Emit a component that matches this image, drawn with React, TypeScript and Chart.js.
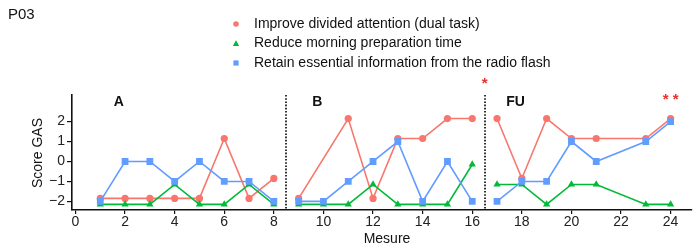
import { useEffect, useRef } from 'react';
import { Chart, registerables } from 'chart.js';

Chart.register(...registerables);

// ---- data ----
const measures = [1, 2, 3, 4, 5, 6, 7, 8, 9, 10, 11, 12, 13, 14, 15, 16, 17, 18, 19, 20, 21, 22, 23, 24];
const attentionScores = [-1.85, -1.85, -1.85, -1.85, -1.85, 1.15, -1.85, -0.85, -1.85, null, 2.15, -1.85, 1.15, 1.15, 2.15, 2.15, 2.15, -0.85, 2.15, 1.15, 1.15, null, 1.15, 2.15];
const morningScores = [-2.15, -2.15, -2.15, -1.15, -2.15, -2.15, -1.15, -2.15, -2.15, -2.15, -2.15, -1.15, -2.15, -2.15, -2.15, -0.15, -1.15, -1.15, -2.15, -1.15, -1.15, null, -2.15, -2.15];
const radioScores = [-2, 0, 0, -1, 0, -1, -1, -2, -2, -2, -1, 0, 1, -2, 0, -2, -2, -1, -1, 1, 0, null, 1, 2];
const seriesNames = [
  'Improve divided attention (dual task)',
  'Reduce morning preparation time',
  'Retain essential information from the radio flash',
];
const phaseNames = ['A', 'B', 'FU'];
const phaseStarts = [1, 9, 17];
const phaseEnds = [8, 16, 24];
const xTicks = [0, 2, 4, 6, 8, 10, 12, 14, 16, 18, 20, 22, 24];
const yTicks = [-2, -1, 0, 1, 2];
const sigMeasures = [16.5, 24];
const sigLabels = ['*', '* *'];

const COLORS = ['#F8766D', '#00BA38', '#619CFF'];
const SHAPES = ['circle', 'triangle', 'rect'];
const RADII = [3.6, 4.2, 4.8];
const FONT = '"Liberation Sans", Arial, sans-serif';

function buildPoints(values: (number | null)[]) {
  const pts: { x: number; y: number | null }[] = [];
  phaseStarts.forEach((start, p) => {
    const end = phaseEnds[p];
    measures.forEach((m, i) => {
      if (m >= start && m <= end && values[i] !== null) pts.push({ x: m, y: values[i] });
    });
    if (p < phaseStarts.length - 1) pts.push({ x: (end + phaseStarts[p + 1]) / 2, y: null });
  });
  return pts;
}

const overlay = {
  id: 'overlay',
  afterDraw(chart: any) {
    const { ctx, chartArea, scales } = chart;
    const xs = scales.x;
    ctx.save();
    // phase separators
    ctx.strokeStyle = '#333';
    ctx.lineWidth = 2;
    ctx.setLineDash([1.6, 1.6]);
    for (let p = 0; p < phaseStarts.length - 1; p++) {
      const xv = (phaseEnds[p] + phaseStarts[p + 1]) / 2;
      const px = Math.round(xs.getPixelForValue(xv));
      ctx.beginPath();
      ctx.moveTo(px, chartArea.top);
      ctx.lineTo(px, chartArea.bottom);
      ctx.stroke();
    }
    ctx.setLineDash([]);
    // phase labels
    ctx.fillStyle = '#111';
    ctx.font = 'bold 14px ' + FONT;
    ctx.textAlign = 'center';
    ctx.textBaseline = 'middle';
    phaseNames.forEach((n, p) => {
      ctx.fillText(n, xs.getPixelForValue(phaseStarts[p] + 0.75), chartArea.top + 7);
    });
    // significance
    ctx.fillStyle = '#E8312F';
    ctx.font = 'bold 15px ' + FONT;
    ctx.textBaseline = 'alphabetic';
    sigLabels.forEach((s, i) => {
      const yc = i === 0 ? chartArea.top - 16 : chartArea.top;
      ctx.fillText(s, xs.getPixelForValue(sigMeasures[i]), yc + 8.5);
    });
    // title
    ctx.fillStyle = '#111';
    ctx.font = '15px ' + FONT;
    ctx.textAlign = 'left';
    ctx.textBaseline = 'middle';
    ctx.fillText('P03', 8, 15);
    // legend
    const rows = [24, 43.5, 63];
    seriesNames.forEach((name, i) => {
      const cx = 236;
      const cy = rows[i];
      ctx.fillStyle = COLORS[i];
      ctx.beginPath();
      if (SHAPES[i] === 'circle') {
        ctx.arc(cx, cy, 2.8, 0, Math.PI * 2);
      } else if (SHAPES[i] === 'triangle') {
        ctx.moveTo(cx, cy - 3.3);
        ctx.lineTo(cx + 3.2, cy + 2.4);
        ctx.lineTo(cx - 3.2, cy + 2.4);
        ctx.closePath();
      } else {
        ctx.rect(cx - 2.6, cy - 2.6, 5.2, 5.2);
      }
      ctx.fill();
      ctx.fillStyle = '#111';
      ctx.font = '14px ' + FONT;
      ctx.fillText(name, 254, cy);
    });
    // axis titles
    ctx.font = '14px ' + FONT;
    ctx.textAlign = 'center';
    ctx.fillText('Mesure', 387, 239);
    ctx.save();
    ctx.translate(38.5, 153);
    ctx.rotate(-Math.PI / 2);
    ctx.fillText('Score GAS', 0, 0);
    ctx.restore();
    ctx.restore();
  },
};

export default function App() {
  const ref = useRef<HTMLCanvasElement>(null);
  useEffect(() => {
    if (!ref.current) return;
    const all = [attentionScores, morningScores, radioScores];
    const datasets = all.map((vals, i) => ({
      label: seriesNames[i],
      data: buildPoints(vals),
      borderColor: COLORS[i],
      backgroundColor: COLORS[i],
      borderWidth: 1.6,
      pointStyle: SHAPES[i],
      pointRadius: RADII[i],
      pointBorderWidth: 0,
      spanGaps: false,
      tension: 0,
      order: 2 - i,
    }));
    const chart = new Chart(ref.current, {
      type: 'line',
      data: { datasets },
      options: {
        animation: false,
        responsive: false,
        layout: { padding: { top: 95, right: 0, left: 0, bottom: 0 } },
        plugins: { legend: { display: false }, tooltip: { enabled: false } },
        scales: {
          x: {
            type: 'linear',
            min: -0.14,
            max: 24.83,
            afterBuildTicks: (s: any) => { s.ticks = xTicks.map((v) => ({ value: v })); },
            afterFit: (s: any) => { s.height = 40; s.paddingLeft = 0; s.paddingRight = 0; },
            grid: { display: true, drawOnChartArea: false, drawTicks: true, tickLength: 4, color: '#111', lineWidth: 1.2 },
            border: { display: true, color: '#111', width: 1.6 },
            ticks: { color: '#222', font: { family: FONT, size: 14 }, padding: 0, maxRotation: 0, autoSkip: false },
          },
          y: {
            type: 'linear',
            min: -2.43,
            max: 3.33,
            afterBuildTicks: (s: any) => { s.ticks = yTicks.map((v) => ({ value: v })); },
            afterFit: (s: any) => { s.width = 72; s.paddingTop = 0; s.paddingBottom = 0; },
            grid: { display: true, drawOnChartArea: false, drawTicks: true, tickLength: 5, color: '#111', lineWidth: 1.2 },
            border: { display: true, color: '#111', width: 1.6 },
            ticks: {
              color: '#222',
              font: { family: FONT, size: 14 },
              padding: 2,
              callback: (v: any) => String(v).replace('-', '\u2212'),
            },
          },
        },
      },
      plugins: [overlay],
    });
    return () => chart.destroy();
  }, []);
  return (
    <div style={{ position: 'absolute', left: 0, top: 0, width: 696, height: 250, background: '#fff' }}>
      <canvas ref={ref} width={696} height={250} />
    </div>
  );
}
